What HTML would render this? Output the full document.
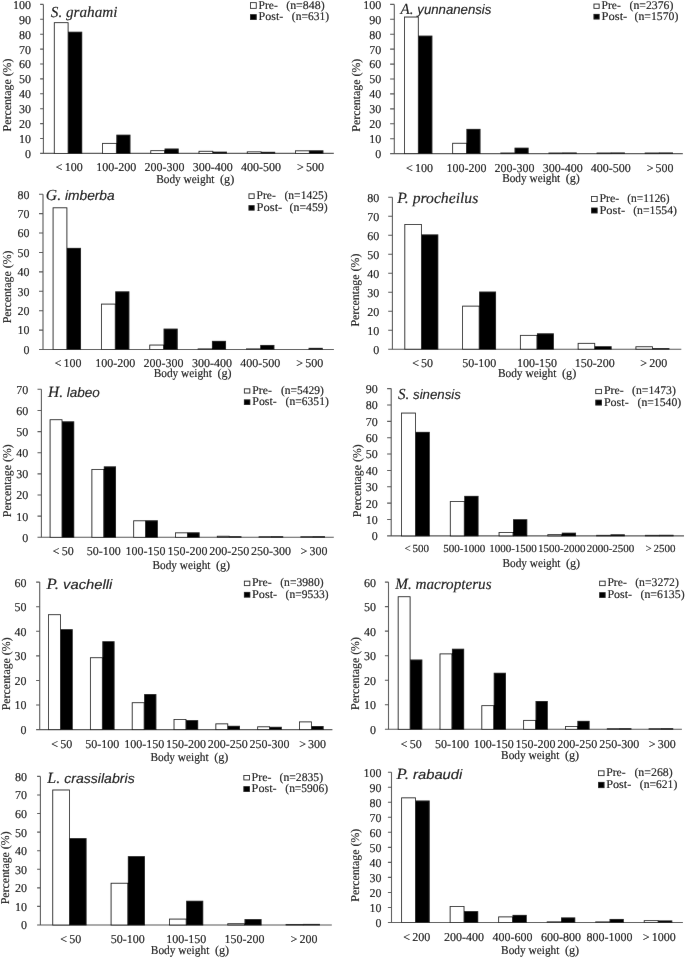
<!DOCTYPE html>
<html><head><meta charset="utf-8"><title>Body weight distributions</title>
<style>
html,body{margin:0;padding:0;background:#fff;}
body{width:685px;height:958px;overflow:hidden;}
svg{display:block;filter:grayscale(1);}
text{font-family:"Liberation Serif", serif;fill:#000;stroke:#000;stroke-width:0.12px;text-rendering:geometricPrecision;}
</style></head><body>
<svg width="685" height="958" viewBox="0 0 685 958">
<defs><filter id="bl" x="0" y="0" width="685" height="958" filterUnits="userSpaceOnUse"><feConvolveMatrix order="3" kernelMatrix="0.00087 0.02776 0.00087 0.02776 0.88549 0.02776 0.00087 0.02776 0.00087" edgeMode="duplicate" preserveAlpha="false"/></filter></defs>
<g filter="url(#bl)">
<rect width="685" height="958" fill="#fff"/>
<path d="M40.1 153.4H333.8" stroke="#545454" stroke-width="1.1" fill="none"/>
<rect x="54.29" y="22.68" width="13.81" height="130.72" fill="#fff" stroke="#111" stroke-width="0.85"/>
<rect x="68.1" y="31.72" width="14.11" height="122.08" fill="#000"/>
<rect x="102.53" y="143.37" width="13.81" height="10.03" fill="#fff" stroke="#111" stroke-width="0.85"/>
<rect x="116.34" y="134.68" width="14.11" height="19.12" fill="#000"/>
<rect x="150.77" y="150.67" width="13.81" height="2.73" fill="#fff" stroke="#111" stroke-width="0.85"/>
<rect x="164.58" y="148.53" width="14.11" height="5.27" fill="#000"/>
<rect x="199.01" y="151.27" width="13.81" height="2.13" fill="#fff" stroke="#111" stroke-width="0.85"/>
<rect x="212.82" y="151.66" width="14.11" height="2.14" fill="#000"/>
<rect x="247.25" y="151.86" width="13.81" height="1.54" fill="#fff" stroke="#111" stroke-width="0.85"/>
<rect x="261.06" y="151.81" width="14.11" height="1.99" fill="#000"/>
<rect x="295.49" y="150.82" width="13.81" height="2.58" fill="#fff" stroke="#111" stroke-width="0.85"/>
<rect x="309.3" y="150.32" width="14.11" height="3.48" fill="#000"/>
<path d="M43.4 4.4V153.4" stroke="#545454" stroke-width="1.1" fill="none"/>
<path d="M40.1 138.5H43.4M40.1 123.6H43.4M40.1 108.7H43.4M40.1 93.8H43.4M40.1 78.9H43.4M40.1 64H43.4M40.1 49.1H43.4M40.1 34.2H43.4M40.1 19.3H43.4M40.1 4.4H43.4" stroke="#545454" stroke-width="1.1" fill="none"/>
<text transform="translate(31 157.8) scale(1.0 1)" text-anchor="end" font-size="12">0</text>
<text transform="translate(31 142.9) scale(1.0 1)" text-anchor="end" font-size="12">10</text>
<text transform="translate(31 128) scale(1.0 1)" text-anchor="end" font-size="12">20</text>
<text transform="translate(31 113.1) scale(1.0 1)" text-anchor="end" font-size="12">30</text>
<text transform="translate(31 98.2) scale(1.0 1)" text-anchor="end" font-size="12">40</text>
<text transform="translate(31 83.3) scale(1.0 1)" text-anchor="end" font-size="12">50</text>
<text transform="translate(31 68.4) scale(1.0 1)" text-anchor="end" font-size="12">60</text>
<text transform="translate(31 53.5) scale(1.0 1)" text-anchor="end" font-size="12">70</text>
<text transform="translate(31 38.6) scale(1.0 1)" text-anchor="end" font-size="12">80</text>
<text transform="translate(31 23.7) scale(1.0 1)" text-anchor="end" font-size="12">90</text>
<text transform="translate(31 8.8) scale(1.0 1)" text-anchor="end" font-size="12">100</text>
<text transform="translate(69.3 170.8) scale(1 1)" text-anchor="middle" font-size="12">&lt;<tspan dx="-0.9"> 100</tspan></text>
<text transform="translate(116.34 170.8) scale(1 1)" text-anchor="middle" font-size="12">100-200</text>
<text transform="translate(164.58 170.8) scale(1 1)" text-anchor="middle" font-size="12">200-300</text>
<text transform="translate(212.82 170.8) scale(1 1)" text-anchor="middle" font-size="12">300-400</text>
<text transform="translate(261.06 170.8) scale(1 1)" text-anchor="middle" font-size="12">400-500</text>
<text transform="translate(310.5 170.8) scale(1 1)" text-anchor="middle" font-size="12">&gt;<tspan dx="-0.9"> 500</tspan></text>
<text x="156.2" y="182.5" font-size="12.2" textLength="58.29" lengthAdjust="spacingAndGlyphs">Body weight</text>
<text transform="translate(234.2 182.5) scale(1.0 1)" font-size="12.2" text-anchor="end">(g)</text>
<text transform="translate(11.2 95) rotate(-90)" text-anchor="middle" font-size="11.9">Percentage (%)</text>
<text x="50.8" y="16.9" font-size="15.5" font-style="italic" textLength="66.6" lengthAdjust="spacingAndGlyphs">S. <tspan font-family="'Liberation Serif', serif" font-size="15.5">grahami</tspan></text>
<rect x="250.45" y="2.65" width="5.8" height="5.7" fill="#fff" stroke="#111" stroke-width="0.85"/>
<rect x="250" y="14.2" width="6.7" height="5.7" fill="#000"/>
<text x="258.6" y="8.9" font-size="11.8" textLength="19.2" lengthAdjust="spacingAndGlyphs">Pre-</text>
<text x="258.6" y="20.2" font-size="11.8" textLength="24.7" lengthAdjust="spacingAndGlyphs">Post-</text>
<text x="286.2" y="8.9" font-size="11.8" textLength="38.5" lengthAdjust="spacingAndGlyphs">(n=848)</text>
<text x="291.8" y="20.2" font-size="11.8" textLength="37.2" lengthAdjust="spacingAndGlyphs">(n=631)</text>
<path d="M390.1 153.6H682.8" stroke="#545454" stroke-width="1.1" fill="none"/>
<rect x="404.53" y="17.03" width="13.77" height="136.57" fill="#fff" stroke="#111" stroke-width="0.85"/>
<rect x="418.3" y="35.63" width="14.07" height="118.37" fill="#000"/>
<rect x="452.65" y="143.26" width="13.77" height="10.34" fill="#fff" stroke="#111" stroke-width="0.85"/>
<rect x="466.42" y="128.88" width="14.07" height="25.12" fill="#000"/>
<rect x="500.77" y="153" width="13.77" height="0.6" fill="#fff" stroke="#111" stroke-width="0.85"/>
<rect x="514.54" y="147.68" width="14.07" height="6.32" fill="#000"/>
<rect x="548.89" y="153" width="13.77" height="0.6" fill="#fff" stroke="#111" stroke-width="0.85"/>
<rect x="562.66" y="152.5" width="14.07" height="1.5" fill="#000"/>
<rect x="597.01" y="153" width="13.77" height="0.6" fill="#fff" stroke="#111" stroke-width="0.85"/>
<rect x="610.78" y="152.5" width="14.07" height="1.5" fill="#000"/>
<rect x="645.13" y="153" width="13.77" height="0.6" fill="#fff" stroke="#111" stroke-width="0.85"/>
<rect x="658.9" y="152.5" width="14.07" height="1.5" fill="#000"/>
<path d="M394.3 4.4V153.6" stroke="#545454" stroke-width="1.1" fill="none"/>
<path d="M390.1 138.68H394.3M390.1 123.76H394.3M390.1 108.84H394.3M390.1 93.92H394.3M390.1 79H394.3M390.1 64.08H394.3M390.1 49.16H394.3M390.1 34.24H394.3M390.1 19.32H394.3M390.1 4.4H394.3" stroke="#545454" stroke-width="1.1" fill="none"/>
<text transform="translate(381.2 158) scale(1.0 1)" text-anchor="end" font-size="12">0</text>
<text transform="translate(381.2 143.08) scale(1.0 1)" text-anchor="end" font-size="12">10</text>
<text transform="translate(381.2 128.16) scale(1.0 1)" text-anchor="end" font-size="12">20</text>
<text transform="translate(381.2 113.24) scale(1.0 1)" text-anchor="end" font-size="12">30</text>
<text transform="translate(381.2 98.32) scale(1.0 1)" text-anchor="end" font-size="12">40</text>
<text transform="translate(381.2 83.4) scale(1.0 1)" text-anchor="end" font-size="12">50</text>
<text transform="translate(381.2 68.48) scale(1.0 1)" text-anchor="end" font-size="12">60</text>
<text transform="translate(381.2 53.56) scale(1.0 1)" text-anchor="end" font-size="12">70</text>
<text transform="translate(381.2 38.64) scale(1.0 1)" text-anchor="end" font-size="12">80</text>
<text transform="translate(381.2 23.72) scale(1.0 1)" text-anchor="end" font-size="12">90</text>
<text transform="translate(381.2 8.8) scale(1.0 1)" text-anchor="end" font-size="12">100</text>
<text transform="translate(419.5 171.5) scale(1 1)" text-anchor="middle" font-size="12">&lt;<tspan dx="-0.9"> 100</tspan></text>
<text transform="translate(466.42 171.5) scale(1 1)" text-anchor="middle" font-size="12">100-200</text>
<text transform="translate(514.54 171.5) scale(1 1)" text-anchor="middle" font-size="12">200-300</text>
<text transform="translate(562.66 171.5) scale(1 1)" text-anchor="middle" font-size="12">300-400</text>
<text transform="translate(610.78 171.5) scale(1 1)" text-anchor="middle" font-size="12">400-500</text>
<text transform="translate(660.1 171.5) scale(1 1)" text-anchor="middle" font-size="12">&gt;<tspan dx="-0.9"> 500</tspan></text>
<text x="502.2" y="181.6" font-size="12.2" textLength="58.06" lengthAdjust="spacingAndGlyphs">Body weight</text>
<text transform="translate(579.9 181.6) scale(1.0 1)" font-size="12.2" text-anchor="end">(g)</text>
<text transform="translate(360.4 95.2) rotate(-90)" text-anchor="middle" font-size="11.9">Percentage (%)</text>
<text x="400.6" y="13.7" font-size="15.5" font-style="italic" textLength="90.8" lengthAdjust="spacingAndGlyphs">A. <tspan font-family="'Liberation Sans', sans-serif" font-size="13.6">yunnanensis</tspan></text>
<rect x="593.95" y="4.05" width="5.2" height="4.3" fill="#fff" stroke="#111" stroke-width="0.85"/>
<rect x="593.5" y="13.9" width="6.1" height="5.6" fill="#000"/>
<text x="601.6" y="8.8" font-size="11.8" textLength="19.2" lengthAdjust="spacingAndGlyphs">Pre-</text>
<text x="601.6" y="20" font-size="11.8" textLength="25.7" lengthAdjust="spacingAndGlyphs">Post-</text>
<text x="629.5" y="8.8" font-size="11.8" textLength="43.8" lengthAdjust="spacingAndGlyphs">(n=2376)</text>
<text x="634.6" y="20" font-size="11.8" textLength="43.8" lengthAdjust="spacingAndGlyphs">(n=1570)</text>
<path d="M39 349.5H333.9" stroke="#545454" stroke-width="1.1" fill="none"/>
<rect x="53.07" y="207.8" width="13.83" height="141.7" fill="#fff" stroke="#111" stroke-width="0.85"/>
<rect x="66.9" y="247.87" width="14.13" height="102.03" fill="#000"/>
<rect x="101.41" y="304.09" width="13.83" height="45.41" fill="#fff" stroke="#111" stroke-width="0.85"/>
<rect x="115.24" y="291.36" width="14.13" height="58.54" fill="#000"/>
<rect x="149.75" y="345.05" width="13.83" height="4.45" fill="#fff" stroke="#111" stroke-width="0.85"/>
<rect x="163.58" y="328.63" width="14.13" height="21.27" fill="#000"/>
<rect x="198.09" y="348.9" width="13.83" height="0.6" fill="#fff" stroke="#111" stroke-width="0.85"/>
<rect x="211.92" y="340.86" width="14.13" height="9.04" fill="#000"/>
<rect x="246.43" y="348.9" width="13.83" height="0.6" fill="#fff" stroke="#111" stroke-width="0.85"/>
<rect x="260.26" y="344.94" width="14.13" height="4.96" fill="#000"/>
<rect x="308.6" y="347.85" width="14.13" height="2.05" fill="#000"/>
<path d="M43 194.2V349.5" stroke="#545454" stroke-width="1.1" fill="none"/>
<path d="M39 330.09H43M39 310.68H43M39 291.26H43M39 271.85H43M39 252.44H43M39 233.02H43M39 213.61H43M39 194.2H43" stroke="#545454" stroke-width="1.1" fill="none"/>
<text transform="translate(29.5 353.9) scale(1.0 1)" text-anchor="end" font-size="12">0</text>
<text transform="translate(29.5 334.49) scale(1.0 1)" text-anchor="end" font-size="12">10</text>
<text transform="translate(29.5 315.07) scale(1.0 1)" text-anchor="end" font-size="12">20</text>
<text transform="translate(29.5 295.66) scale(1.0 1)" text-anchor="end" font-size="12">30</text>
<text transform="translate(29.5 276.25) scale(1.0 1)" text-anchor="end" font-size="12">40</text>
<text transform="translate(29.5 256.84) scale(1.0 1)" text-anchor="end" font-size="12">50</text>
<text transform="translate(29.5 237.42) scale(1.0 1)" text-anchor="end" font-size="12">60</text>
<text transform="translate(29.5 218.01) scale(1.0 1)" text-anchor="end" font-size="12">70</text>
<text transform="translate(29.5 198.6) scale(1.0 1)" text-anchor="end" font-size="12">80</text>
<text transform="translate(68.1 366.9) scale(1 1)" text-anchor="middle" font-size="12">&lt;<tspan dx="-0.9"> 100</tspan></text>
<text transform="translate(115.24 366.9) scale(1 1)" text-anchor="middle" font-size="12">100-200</text>
<text transform="translate(163.58 366.9) scale(1 1)" text-anchor="middle" font-size="12">200-300</text>
<text transform="translate(211.92 366.9) scale(1 1)" text-anchor="middle" font-size="12">300-400</text>
<text transform="translate(260.26 366.9) scale(1 1)" text-anchor="middle" font-size="12">400-500</text>
<text transform="translate(309.8 366.9) scale(1 1)" text-anchor="middle" font-size="12">&gt;<tspan dx="-0.9"> 500</tspan></text>
<text x="153.7" y="376.8" font-size="12.2" textLength="58.21" lengthAdjust="spacingAndGlyphs">Body weight</text>
<text transform="translate(231.6 376.8) scale(1.0 1)" font-size="12.2" text-anchor="end">(g)</text>
<text transform="translate(11 286.9) rotate(-90)" text-anchor="middle" font-size="11.9">Percentage (%)</text>
<text x="45.8" y="200.4" font-size="15.5" font-style="italic" textLength="68.9" lengthAdjust="spacingAndGlyphs">G. <tspan font-family="'Liberation Sans', sans-serif" font-size="13.6">imberba</tspan></text>
<rect x="248.95" y="193.85" width="5.2" height="4.7" fill="#fff" stroke="#111" stroke-width="0.85"/>
<rect x="248.5" y="205.2" width="6.1" height="5.4" fill="#000"/>
<text x="256.6" y="199.3" font-size="11.8" textLength="19.2" lengthAdjust="spacingAndGlyphs">Pre-</text>
<text x="256.6" y="211.4" font-size="11.8" textLength="25.7" lengthAdjust="spacingAndGlyphs">Post-</text>
<text x="284.5" y="199.3" font-size="11.8" textLength="43.1" lengthAdjust="spacingAndGlyphs">(n=1425)</text>
<text x="289.6" y="211.4" font-size="11.8" textLength="38" lengthAdjust="spacingAndGlyphs">(n=459)</text>
<path d="M388.2 349.2H681.3" stroke="#545454" stroke-width="1.1" fill="none"/>
<rect x="404.81" y="224.47" width="16.59" height="124.73" fill="#fff" stroke="#111" stroke-width="0.85"/>
<rect x="421.4" y="234.42" width="16.89" height="115.18" fill="#000"/>
<rect x="462.58" y="306.12" width="16.59" height="43.08" fill="#fff" stroke="#111" stroke-width="0.85"/>
<rect x="479.17" y="291.57" width="16.89" height="58.03" fill="#000"/>
<rect x="520.36" y="335.36" width="16.59" height="13.84" fill="#fff" stroke="#111" stroke-width="0.85"/>
<rect x="536.95" y="333.34" width="16.89" height="16.26" fill="#000"/>
<rect x="578.13" y="343.33" width="16.59" height="5.87" fill="#fff" stroke="#111" stroke-width="0.85"/>
<rect x="594.73" y="346.25" width="16.89" height="3.35" fill="#000"/>
<rect x="635.91" y="346.75" width="16.59" height="2.45" fill="#fff" stroke="#111" stroke-width="0.85"/>
<rect x="652.5" y="348.1" width="16.89" height="1.5" fill="#000"/>
<path d="M392.4 197.3V349.2" stroke="#545454" stroke-width="1.1" fill="none"/>
<path d="M388.2 330.21H392.4M388.2 311.23H392.4M388.2 292.24H392.4M388.2 273.25H392.4M388.2 254.26H392.4M388.2 235.28H392.4M388.2 216.29H392.4M388.2 197.3H392.4" stroke="#545454" stroke-width="1.1" fill="none"/>
<text transform="translate(379.2 353.6) scale(1.0 1)" text-anchor="end" font-size="12">0</text>
<text transform="translate(379.2 334.61) scale(1.0 1)" text-anchor="end" font-size="12">10</text>
<text transform="translate(379.2 315.62) scale(1.0 1)" text-anchor="end" font-size="12">20</text>
<text transform="translate(379.2 296.64) scale(1.0 1)" text-anchor="end" font-size="12">30</text>
<text transform="translate(379.2 277.65) scale(1.0 1)" text-anchor="end" font-size="12">40</text>
<text transform="translate(379.2 258.66) scale(1.0 1)" text-anchor="end" font-size="12">50</text>
<text transform="translate(379.2 239.68) scale(1.0 1)" text-anchor="end" font-size="12">60</text>
<text transform="translate(379.2 220.69) scale(1.0 1)" text-anchor="end" font-size="12">70</text>
<text transform="translate(379.2 201.7) scale(1.0 1)" text-anchor="end" font-size="12">80</text>
<text transform="translate(422.6 366.5) scale(1 1)" text-anchor="middle" font-size="12">&lt;<tspan dx="-0.9"> 50</tspan></text>
<text transform="translate(479.17 366.5) scale(1 1)" text-anchor="middle" font-size="12">50-100</text>
<text transform="translate(536.95 366.5) scale(1 1)" text-anchor="middle" font-size="12">100-150</text>
<text transform="translate(594.73 366.5) scale(1 1)" text-anchor="middle" font-size="12">150-200</text>
<text transform="translate(653.7 366.5) scale(1 1)" text-anchor="middle" font-size="12">&gt;<tspan dx="-0.9"> 200</tspan></text>
<text x="497.9" y="377.4" font-size="12.2" textLength="58.51" lengthAdjust="spacingAndGlyphs">Body weight</text>
<text transform="translate(576.2 377.4) scale(1.0 1)" font-size="12.2" text-anchor="end">(g)</text>
<text transform="translate(358.6 290.1) rotate(-90)" text-anchor="middle" font-size="11.9">Percentage (%)</text>
<text x="397.3" y="203.3" font-size="15.5" font-style="italic" textLength="81" lengthAdjust="spacingAndGlyphs">P. <tspan font-family="'Liberation Serif', serif" font-size="15.5">procheilus</tspan></text>
<rect x="591.55" y="196.45" width="5.6" height="5" fill="#fff" stroke="#111" stroke-width="0.85"/>
<rect x="591.1" y="207.6" width="6.5" height="5.8" fill="#000"/>
<text x="599.4" y="202.2" font-size="11.8" textLength="19.9" lengthAdjust="spacingAndGlyphs">Pre-</text>
<text x="599.4" y="213.7" font-size="11.8" textLength="25.7" lengthAdjust="spacingAndGlyphs">Post-</text>
<text x="627.3" y="202.2" font-size="11.8" textLength="42.4" lengthAdjust="spacingAndGlyphs">(n=1126)</text>
<text x="633.2" y="213.7" font-size="11.8" textLength="43.8" lengthAdjust="spacingAndGlyphs">(n=1554)</text>
<path d="M37.5 537.3H333.8" stroke="#545454" stroke-width="1.1" fill="none"/>
<rect x="50.08" y="419.72" width="11.92" height="117.58" fill="#fff" stroke="#111" stroke-width="0.85"/>
<rect x="62" y="421.34" width="12.22" height="116.36" fill="#000"/>
<rect x="91.88" y="469.41" width="11.92" height="67.89" fill="#fff" stroke="#111" stroke-width="0.85"/>
<rect x="103.8" y="466.37" width="12.22" height="71.33" fill="#000"/>
<rect x="133.68" y="520.79" width="11.92" height="16.51" fill="#fff" stroke="#111" stroke-width="0.85"/>
<rect x="145.6" y="520.29" width="12.22" height="17.41" fill="#000"/>
<rect x="175.48" y="532.84" width="11.92" height="4.46" fill="#fff" stroke="#111" stroke-width="0.85"/>
<rect x="187.4" y="532.34" width="12.22" height="5.36" fill="#000"/>
<rect x="217.28" y="536.22" width="11.92" height="1.08" fill="#fff" stroke="#111" stroke-width="0.85"/>
<rect x="229.2" y="536.2" width="12.22" height="1.5" fill="#000"/>
<rect x="259.08" y="536.7" width="11.92" height="0.6" fill="#fff" stroke="#111" stroke-width="0.85"/>
<rect x="271" y="536.2" width="12.22" height="1.5" fill="#000"/>
<rect x="300.88" y="536.7" width="11.92" height="0.6" fill="#fff" stroke="#111" stroke-width="0.85"/>
<rect x="312.8" y="536.2" width="12.22" height="1.5" fill="#000"/>
<path d="M41.4 389.3V537.3" stroke="#545454" stroke-width="1.1" fill="none"/>
<path d="M37.5 516.16H41.4M37.5 495.01H41.4M37.5 473.87H41.4M37.5 452.73H41.4M37.5 431.59H41.4M37.5 410.44H41.4M37.5 389.3H41.4" stroke="#545454" stroke-width="1.1" fill="none"/>
<text transform="translate(28.3 541.7) scale(1.0 1)" text-anchor="end" font-size="12">0</text>
<text transform="translate(28.3 520.56) scale(1.0 1)" text-anchor="end" font-size="12">10</text>
<text transform="translate(28.3 499.41) scale(1.0 1)" text-anchor="end" font-size="12">20</text>
<text transform="translate(28.3 478.27) scale(1.0 1)" text-anchor="end" font-size="12">30</text>
<text transform="translate(28.3 457.13) scale(1.0 1)" text-anchor="end" font-size="12">40</text>
<text transform="translate(28.3 435.99) scale(1.0 1)" text-anchor="end" font-size="12">50</text>
<text transform="translate(28.3 414.84) scale(1.0 1)" text-anchor="end" font-size="12">60</text>
<text transform="translate(28.3 393.7) scale(1.0 1)" text-anchor="end" font-size="12">70</text>
<text transform="translate(63.2 555.3) scale(1 1)" text-anchor="middle" font-size="12">&lt;<tspan dx="-0.9"> 50</tspan></text>
<text transform="translate(103.8 555.3) scale(1 1)" text-anchor="middle" font-size="12">50-100</text>
<text transform="translate(145.6 555.3) scale(1 1)" text-anchor="middle" font-size="12">100-150</text>
<text transform="translate(187.4 555.3) scale(1 1)" text-anchor="middle" font-size="12">150-200</text>
<text transform="translate(229.2 555.3) scale(1 1)" text-anchor="middle" font-size="12">200-250</text>
<text transform="translate(271 555.3) scale(1 1)" text-anchor="middle" font-size="12">250-300</text>
<text transform="translate(314 555.3) scale(1 1)" text-anchor="middle" font-size="12">&gt;<tspan dx="-0.9"> 300</tspan></text>
<text x="152.5" y="568.8" font-size="12.2" textLength="57.98" lengthAdjust="spacingAndGlyphs">Body weight</text>
<text transform="translate(230.1 568.8) scale(1.0 1)" font-size="12.2" text-anchor="end">(g)</text>
<text transform="translate(11 480.7) rotate(-90)" text-anchor="middle" font-size="11.9">Percentage (%)</text>
<text x="48" y="396.7" font-size="15.5" font-style="italic" textLength="51.9" lengthAdjust="spacingAndGlyphs">H. <tspan font-family="'Liberation Sans', sans-serif" font-size="13.6">labeo</tspan></text>
<rect x="244.35" y="388.85" width="5.5" height="4.2" fill="#fff" stroke="#111" stroke-width="0.85"/>
<rect x="243.9" y="399.4" width="6.4" height="5.6" fill="#000"/>
<text x="252.3" y="394.1" font-size="11.8" textLength="19.5" lengthAdjust="spacingAndGlyphs">Pre-</text>
<text x="252.3" y="405.3" font-size="11.8" textLength="24.4" lengthAdjust="spacingAndGlyphs">Post-</text>
<text x="281" y="394.1" font-size="11.8" textLength="42.9" lengthAdjust="spacingAndGlyphs">(n=5429)</text>
<text x="285.6" y="405.3" font-size="11.8" textLength="43.2" lengthAdjust="spacingAndGlyphs">(n=6351)</text>
<path d="M387.1 535.9H684" stroke="#545454" stroke-width="1.1" fill="none"/>
<rect x="401.54" y="413.06" width="13.96" height="122.84" fill="#fff" stroke="#111" stroke-width="0.85"/>
<rect x="415.5" y="431.87" width="14.26" height="104.43" fill="#000"/>
<rect x="450.3" y="501.44" width="13.96" height="34.46" fill="#fff" stroke="#111" stroke-width="0.85"/>
<rect x="464.26" y="495.87" width="14.26" height="40.43" fill="#000"/>
<rect x="499.06" y="532.54" width="13.96" height="3.36" fill="#fff" stroke="#111" stroke-width="0.85"/>
<rect x="513.02" y="519.27" width="14.26" height="17.03" fill="#000"/>
<rect x="547.82" y="534.66" width="13.96" height="1.24" fill="#fff" stroke="#111" stroke-width="0.85"/>
<rect x="561.78" y="532.69" width="14.26" height="3.61" fill="#000"/>
<rect x="596.58" y="535.3" width="13.96" height="0.6" fill="#fff" stroke="#111" stroke-width="0.85"/>
<rect x="610.54" y="534.33" width="14.26" height="1.97" fill="#000"/>
<rect x="645.34" y="535.3" width="13.96" height="0.6" fill="#fff" stroke="#111" stroke-width="0.85"/>
<rect x="659.3" y="534.8" width="14.26" height="1.5" fill="#000"/>
<path d="M391.2 388.6V535.9" stroke="#545454" stroke-width="1.1" fill="none"/>
<path d="M387.1 519.53H391.2M387.1 503.17H391.2M387.1 486.8H391.2M387.1 470.43H391.2M387.1 454.07H391.2M387.1 437.7H391.2M387.1 421.33H391.2M387.1 404.97H391.2M387.1 388.6H391.2" stroke="#545454" stroke-width="1.1" fill="none"/>
<text transform="translate(377.7 540.3) scale(1.0 1)" text-anchor="end" font-size="12">0</text>
<text transform="translate(377.7 523.93) scale(1.0 1)" text-anchor="end" font-size="12">10</text>
<text transform="translate(377.7 507.57) scale(1.0 1)" text-anchor="end" font-size="12">20</text>
<text transform="translate(377.7 491.2) scale(1.0 1)" text-anchor="end" font-size="12">30</text>
<text transform="translate(377.7 474.83) scale(1.0 1)" text-anchor="end" font-size="12">40</text>
<text transform="translate(377.7 458.47) scale(1.0 1)" text-anchor="end" font-size="12">50</text>
<text transform="translate(377.7 442.1) scale(1.0 1)" text-anchor="end" font-size="12">60</text>
<text transform="translate(377.7 425.73) scale(1.0 1)" text-anchor="end" font-size="12">70</text>
<text transform="translate(377.7 409.37) scale(1.0 1)" text-anchor="end" font-size="12">80</text>
<text transform="translate(377.7 393) scale(1.0 1)" text-anchor="end" font-size="12">90</text>
<text transform="translate(416.7 552.3) scale(1 1)" text-anchor="middle" font-size="11">&lt;<tspan dx="-0.9"> 500</tspan></text>
<text transform="translate(464.26 552.3) scale(1 1)" text-anchor="middle" font-size="11">500-1000</text>
<text transform="translate(513.02 552.3) scale(1 1)" text-anchor="middle" font-size="11">1000-1500</text>
<text transform="translate(561.78 552.3) scale(1 1)" text-anchor="middle" font-size="11">1500-2000</text>
<text transform="translate(610.54 552.3) scale(1 1)" text-anchor="middle" font-size="11">2000-2500</text>
<text transform="translate(660.5 552.3) scale(1 1)" text-anchor="middle" font-size="11">&gt;<tspan dx="-0.9"> 2500</tspan></text>
<text x="502.5" y="566.5" font-size="12.2" textLength="57.98" lengthAdjust="spacingAndGlyphs">Body weight</text>
<text transform="translate(580.1 566.5) scale(1.0 1)" font-size="12.2" text-anchor="end">(g)</text>
<text transform="translate(360.9 480.7) rotate(-90)" text-anchor="middle" font-size="11.9">Percentage (%)</text>
<text x="398" y="399.4" font-size="15.5" font-style="italic" textLength="62.8" lengthAdjust="spacingAndGlyphs">S. <tspan font-family="'Liberation Sans', sans-serif" font-size="13.6">sinensis</tspan></text>
<rect x="595.75" y="389.35" width="5.7" height="4.3" fill="#fff" stroke="#111" stroke-width="0.85"/>
<rect x="595.3" y="399.7" width="6.6" height="5.8" fill="#000"/>
<text x="603.9" y="394.4" font-size="11.8" textLength="19.8" lengthAdjust="spacingAndGlyphs">Pre-</text>
<text x="603.9" y="405.8" font-size="11.8" textLength="24.8" lengthAdjust="spacingAndGlyphs">Post-</text>
<text x="632.1" y="394.4" font-size="11.8" textLength="43.7" lengthAdjust="spacingAndGlyphs">(n=1473)</text>
<text x="637.5" y="405.8" font-size="11.8" textLength="43.7" lengthAdjust="spacingAndGlyphs">(n=1540)</text>
<path d="M36.1 729.6H332.4" stroke="#545454" stroke-width="1.1" fill="none"/>
<rect x="48.57" y="614.7" width="11.93" height="114.9" fill="#fff" stroke="#111" stroke-width="0.85"/>
<rect x="60.5" y="629.2" width="12.23" height="100.8" fill="#000"/>
<rect x="90.39" y="657.73" width="11.93" height="71.88" fill="#fff" stroke="#111" stroke-width="0.85"/>
<rect x="102.32" y="641.25" width="12.23" height="88.75" fill="#000"/>
<rect x="132.21" y="702.71" width="11.93" height="26.89" fill="#fff" stroke="#111" stroke-width="0.85"/>
<rect x="144.13" y="694.1" width="12.23" height="35.9" fill="#000"/>
<rect x="174.02" y="719.43" width="11.93" height="10.17" fill="#fff" stroke="#111" stroke-width="0.85"/>
<rect x="185.95" y="720.16" width="12.23" height="9.84" fill="#000"/>
<rect x="215.84" y="723.85" width="11.93" height="5.75" fill="#fff" stroke="#111" stroke-width="0.85"/>
<rect x="227.77" y="725.81" width="12.23" height="4.19" fill="#000"/>
<rect x="257.66" y="726.8" width="11.93" height="2.8" fill="#fff" stroke="#111" stroke-width="0.85"/>
<rect x="269.58" y="726.8" width="12.23" height="3.2" fill="#000"/>
<rect x="299.47" y="721.89" width="11.93" height="7.71" fill="#fff" stroke="#111" stroke-width="0.85"/>
<rect x="311.4" y="726.06" width="12.23" height="3.94" fill="#000"/>
<path d="M39.7 582.1V729.6" stroke="#545454" stroke-width="1.1" fill="none"/>
<path d="M36.1 705.02H39.7M36.1 680.43H39.7M36.1 655.85H39.7M36.1 631.27H39.7M36.1 606.68H39.7M36.1 582.1H39.7" stroke="#545454" stroke-width="1.1" fill="none"/>
<text transform="translate(26.5 734) scale(1.0 1)" text-anchor="end" font-size="12">0</text>
<text transform="translate(26.5 709.42) scale(1.0 1)" text-anchor="end" font-size="12">10</text>
<text transform="translate(26.5 684.83) scale(1.0 1)" text-anchor="end" font-size="12">20</text>
<text transform="translate(26.5 660.25) scale(1.0 1)" text-anchor="end" font-size="12">30</text>
<text transform="translate(26.5 635.67) scale(1.0 1)" text-anchor="end" font-size="12">40</text>
<text transform="translate(26.5 611.08) scale(1.0 1)" text-anchor="end" font-size="12">50</text>
<text transform="translate(26.5 586.5) scale(1.0 1)" text-anchor="end" font-size="12">60</text>
<text transform="translate(61.7 747.8) scale(1 1)" text-anchor="middle" font-size="12">&lt;<tspan dx="-0.9"> 50</tspan></text>
<text transform="translate(102.32 747.8) scale(1 1)" text-anchor="middle" font-size="12">50-100</text>
<text transform="translate(144.13 747.8) scale(1 1)" text-anchor="middle" font-size="12">100-150</text>
<text transform="translate(185.95 747.8) scale(1 1)" text-anchor="middle" font-size="12">150-200</text>
<text transform="translate(227.77 747.8) scale(1 1)" text-anchor="middle" font-size="12">200-250</text>
<text transform="translate(269.58 747.8) scale(1 1)" text-anchor="middle" font-size="12">250-300</text>
<text transform="translate(312.6 747.8) scale(1 1)" text-anchor="middle" font-size="12">&gt;<tspan dx="-0.9"> 300</tspan></text>
<text x="150.4" y="760.5" font-size="12.2" textLength="58.29" lengthAdjust="spacingAndGlyphs">Body weight</text>
<text transform="translate(228.4 760.5) scale(1.0 1)" font-size="12.2" text-anchor="end">(g)</text>
<text transform="translate(9.7 673.8) rotate(-90)" text-anchor="middle" font-size="11.9">Percentage (%)</text>
<text x="46.6" y="589.3" font-size="15.5" font-style="italic" textLength="65.7" lengthAdjust="spacingAndGlyphs">P. <tspan font-family="'Liberation Sans', sans-serif" font-size="13.6">vachelli</tspan></text>
<rect x="244.35" y="581.15" width="5.5" height="4.5" fill="#fff" stroke="#111" stroke-width="0.85"/>
<rect x="243.9" y="591.9" width="6.4" height="5.7" fill="#000"/>
<text x="252" y="586.4" font-size="11.8" textLength="19.8" lengthAdjust="spacingAndGlyphs">Pre-</text>
<text x="252" y="597.9" font-size="11.8" textLength="25.2" lengthAdjust="spacingAndGlyphs">Post-</text>
<text x="280.2" y="586.4" font-size="11.8" textLength="43.4" lengthAdjust="spacingAndGlyphs">(n=3980)</text>
<text x="285.6" y="597.9" font-size="11.8" textLength="42.9" lengthAdjust="spacingAndGlyphs">(n=9533)</text>
<path d="M384.9 729.3H681.9" stroke="#545454" stroke-width="1.1" fill="none"/>
<rect x="398.17" y="596.73" width="11.93" height="132.57" fill="#fff" stroke="#111" stroke-width="0.85"/>
<rect x="410.1" y="659.53" width="12.23" height="70.17" fill="#000"/>
<rect x="439.99" y="653.89" width="11.93" height="75.41" fill="#fff" stroke="#111" stroke-width="0.85"/>
<rect x="451.92" y="648.73" width="12.23" height="80.97" fill="#000"/>
<rect x="481.81" y="705.66" width="11.93" height="23.64" fill="#fff" stroke="#111" stroke-width="0.85"/>
<rect x="493.73" y="672.77" width="12.23" height="56.93" fill="#000"/>
<rect x="523.62" y="720.38" width="11.93" height="8.92" fill="#fff" stroke="#111" stroke-width="0.85"/>
<rect x="535.55" y="700.99" width="12.23" height="28.71" fill="#000"/>
<rect x="565.44" y="726.51" width="11.93" height="2.79" fill="#fff" stroke="#111" stroke-width="0.85"/>
<rect x="577.37" y="720.86" width="12.23" height="8.84" fill="#000"/>
<rect x="607.26" y="728.7" width="11.93" height="0.6" fill="#fff" stroke="#111" stroke-width="0.85"/>
<rect x="619.18" y="728.2" width="12.23" height="1.5" fill="#000"/>
<rect x="649.07" y="728.7" width="11.93" height="0.6" fill="#fff" stroke="#111" stroke-width="0.85"/>
<rect x="661" y="728.2" width="12.23" height="1.5" fill="#000"/>
<path d="M388.5 582.1V729.3" stroke="#545454" stroke-width="1.1" fill="none"/>
<path d="M384.9 704.77H388.5M384.9 680.23H388.5M384.9 655.7H388.5M384.9 631.17H388.5M384.9 606.63H388.5M384.9 582.1H388.5" stroke="#545454" stroke-width="1.1" fill="none"/>
<text transform="translate(375.9 733.7) scale(1.0 1)" text-anchor="end" font-size="12">0</text>
<text transform="translate(375.9 709.17) scale(1.0 1)" text-anchor="end" font-size="12">10</text>
<text transform="translate(375.9 684.63) scale(1.0 1)" text-anchor="end" font-size="12">20</text>
<text transform="translate(375.9 660.1) scale(1.0 1)" text-anchor="end" font-size="12">30</text>
<text transform="translate(375.9 635.57) scale(1.0 1)" text-anchor="end" font-size="12">40</text>
<text transform="translate(375.9 611.03) scale(1.0 1)" text-anchor="end" font-size="12">50</text>
<text transform="translate(375.9 586.5) scale(1.0 1)" text-anchor="end" font-size="12">60</text>
<text transform="translate(411.3 747.5) scale(1 1)" text-anchor="middle" font-size="12">&lt;<tspan dx="-0.9"> 50</tspan></text>
<text transform="translate(451.92 747.5) scale(1 1)" text-anchor="middle" font-size="12">50-100</text>
<text transform="translate(493.73 747.5) scale(1 1)" text-anchor="middle" font-size="12">100-150</text>
<text transform="translate(535.55 747.5) scale(1 1)" text-anchor="middle" font-size="12">150-200</text>
<text transform="translate(577.37 747.5) scale(1 1)" text-anchor="middle" font-size="12">200-250</text>
<text transform="translate(619.18 747.5) scale(1 1)" text-anchor="middle" font-size="12">250-300</text>
<text transform="translate(662.2 747.5) scale(1 1)" text-anchor="middle" font-size="12">&gt;<tspan dx="-0.9"> 300</tspan></text>
<text x="501.1" y="759.1" font-size="12.2" textLength="58.29" lengthAdjust="spacingAndGlyphs">Body weight</text>
<text transform="translate(579.1 759.1) scale(1.0 1)" font-size="12.2" text-anchor="end">(g)</text>
<text transform="translate(359.3 673.5) rotate(-90)" text-anchor="middle" font-size="11.9">Percentage (%)</text>
<text x="395.3" y="588.9" font-size="15.5" font-style="italic" textLength="96.3" lengthAdjust="spacingAndGlyphs">M. <tspan font-family="'Liberation Serif', serif" font-size="15.5">macropterus</tspan></text>
<rect x="599.65" y="581.15" width="5.5" height="4.5" fill="#fff" stroke="#111" stroke-width="0.85"/>
<rect x="599.2" y="592.2" width="6.4" height="5.7" fill="#000"/>
<text x="607.4" y="586.4" font-size="11.8" textLength="19.4" lengthAdjust="spacingAndGlyphs">Pre-</text>
<text x="607.4" y="598.2" font-size="11.8" textLength="24.7" lengthAdjust="spacingAndGlyphs">Post-</text>
<text x="635.2" y="586.4" font-size="11.8" textLength="43.7" lengthAdjust="spacingAndGlyphs">(n=3272)</text>
<text x="640.5" y="598.2" font-size="11.8" textLength="44.1" lengthAdjust="spacingAndGlyphs">(n=6135)</text>
<path d="M37.1 925H331.8" stroke="#545454" stroke-width="1.1" fill="none"/>
<rect x="52.74" y="789.99" width="16.76" height="135.01" fill="#fff" stroke="#111" stroke-width="0.85"/>
<rect x="69.5" y="838.15" width="17.06" height="87.25" fill="#000"/>
<rect x="111.08" y="883.23" width="16.76" height="41.77" fill="#fff" stroke="#111" stroke-width="0.85"/>
<rect x="127.84" y="856.17" width="17.06" height="69.23" fill="#000"/>
<rect x="169.42" y="919.08" width="16.76" height="5.92" fill="#fff" stroke="#111" stroke-width="0.85"/>
<rect x="186.18" y="900.75" width="17.06" height="24.65" fill="#000"/>
<rect x="227.75" y="923.73" width="16.76" height="1.27" fill="#fff" stroke="#111" stroke-width="0.85"/>
<rect x="244.51" y="919.14" width="17.06" height="6.26" fill="#000"/>
<rect x="286.09" y="924.4" width="16.76" height="0.6" fill="#fff" stroke="#111" stroke-width="0.85"/>
<rect x="302.85" y="923.9" width="17.06" height="1.5" fill="#000"/>
<path d="M40.4 776.4V925" stroke="#545454" stroke-width="1.1" fill="none"/>
<path d="M37.1 906.42H40.4M37.1 887.85H40.4M37.1 869.27H40.4M37.1 850.7H40.4M37.1 832.12H40.4M37.1 813.55H40.4M37.1 794.97H40.4M37.1 776.4H40.4" stroke="#545454" stroke-width="1.1" fill="none"/>
<text transform="translate(27.1 929.4) scale(1.0 1)" text-anchor="end" font-size="12">0</text>
<text transform="translate(27.1 910.82) scale(1.0 1)" text-anchor="end" font-size="12">10</text>
<text transform="translate(27.1 892.25) scale(1.0 1)" text-anchor="end" font-size="12">20</text>
<text transform="translate(27.1 873.67) scale(1.0 1)" text-anchor="end" font-size="12">30</text>
<text transform="translate(27.1 855.1) scale(1.0 1)" text-anchor="end" font-size="12">40</text>
<text transform="translate(27.1 836.52) scale(1.0 1)" text-anchor="end" font-size="12">50</text>
<text transform="translate(27.1 817.95) scale(1.0 1)" text-anchor="end" font-size="12">60</text>
<text transform="translate(27.1 799.37) scale(1.0 1)" text-anchor="end" font-size="12">70</text>
<text transform="translate(27.1 780.8) scale(1.0 1)" text-anchor="end" font-size="12">80</text>
<text transform="translate(70.7 942.8) scale(1 1)" text-anchor="middle" font-size="12">&lt;<tspan dx="-0.9"> 50</tspan></text>
<text transform="translate(127.84 942.8) scale(1 1)" text-anchor="middle" font-size="12">50-100</text>
<text transform="translate(186.18 942.8) scale(1 1)" text-anchor="middle" font-size="12">100-150</text>
<text transform="translate(244.51 942.8) scale(1 1)" text-anchor="middle" font-size="12">150-200</text>
<text transform="translate(304.05 942.8) scale(1 1)" text-anchor="middle" font-size="12">&gt;<tspan dx="-0.9"> 200</tspan></text>
<text x="150.8" y="954.2" font-size="12.2" textLength="58.51" lengthAdjust="spacingAndGlyphs">Body weight</text>
<text transform="translate(229.1 954.2) scale(1.0 1)" font-size="12.2" text-anchor="end">(g)</text>
<text transform="translate(9 867.8) rotate(-90)" text-anchor="middle" font-size="11.9">Percentage (%)</text>
<text x="47.2" y="783.2" font-size="15.5" font-style="italic" textLength="87.5" lengthAdjust="spacingAndGlyphs">L. <tspan font-family="'Liberation Sans', sans-serif" font-size="13.6">crassilabris</tspan></text>
<rect x="243.85" y="775.45" width="5.6" height="4.5" fill="#fff" stroke="#111" stroke-width="0.85"/>
<rect x="243.4" y="786.2" width="6.5" height="5.7" fill="#000"/>
<text x="251.6" y="780.7" font-size="11.8" textLength="19.9" lengthAdjust="spacingAndGlyphs">Pre-</text>
<text x="251.6" y="792.2" font-size="11.8" textLength="25.1" lengthAdjust="spacingAndGlyphs">Post-</text>
<text x="279.5" y="780.7" font-size="11.8" textLength="43.6" lengthAdjust="spacingAndGlyphs">(n=2835)</text>
<text x="285.3" y="792.2" font-size="11.8" textLength="42.9" lengthAdjust="spacingAndGlyphs">(n=5906)</text>
<path d="M387.9 922.5H682.9" stroke="#545454" stroke-width="1.1" fill="none"/>
<rect x="401.61" y="797.85" width="13.89" height="124.65" fill="#fff" stroke="#111" stroke-width="0.85"/>
<rect x="415.5" y="800.51" width="14.19" height="122.39" fill="#000"/>
<rect x="450.13" y="906.52" width="13.89" height="15.98" fill="#fff" stroke="#111" stroke-width="0.85"/>
<rect x="464.02" y="911.13" width="14.19" height="11.77" fill="#000"/>
<rect x="498.65" y="916.89" width="13.89" height="5.61" fill="#fff" stroke="#111" stroke-width="0.85"/>
<rect x="512.54" y="914.88" width="14.19" height="8.01" fill="#000"/>
<rect x="547.17" y="921.85" width="13.89" height="0.65" fill="#fff" stroke="#111" stroke-width="0.85"/>
<rect x="561.06" y="917.44" width="14.19" height="5.46" fill="#000"/>
<rect x="595.69" y="921.9" width="13.89" height="0.6" fill="#fff" stroke="#111" stroke-width="0.85"/>
<rect x="609.58" y="918.94" width="14.19" height="3.96" fill="#000"/>
<rect x="644.21" y="920.65" width="13.89" height="1.85" fill="#fff" stroke="#111" stroke-width="0.85"/>
<rect x="658.1" y="920.45" width="14.19" height="2.45" fill="#000"/>
<path d="M391.5 772.2V922.5" stroke="#545454" stroke-width="1.1" fill="none"/>
<path d="M387.9 907.47H391.5M387.9 892.44H391.5M387.9 877.41H391.5M387.9 862.38H391.5M387.9 847.35H391.5M387.9 832.32H391.5M387.9 817.29H391.5M387.9 802.26H391.5M387.9 787.23H391.5M387.9 772.2H391.5" stroke="#545454" stroke-width="1.1" fill="none"/>
<text transform="translate(381.5 926.9) scale(1.0 1)" text-anchor="end" font-size="12">0</text>
<text transform="translate(381.5 911.87) scale(1.0 1)" text-anchor="end" font-size="12">10</text>
<text transform="translate(381.5 896.84) scale(1.0 1)" text-anchor="end" font-size="12">20</text>
<text transform="translate(381.5 881.81) scale(1.0 1)" text-anchor="end" font-size="12">30</text>
<text transform="translate(381.5 866.78) scale(1.0 1)" text-anchor="end" font-size="12">40</text>
<text transform="translate(381.5 851.75) scale(1.0 1)" text-anchor="end" font-size="12">50</text>
<text transform="translate(381.5 836.72) scale(1.0 1)" text-anchor="end" font-size="12">60</text>
<text transform="translate(381.5 821.69) scale(1.0 1)" text-anchor="end" font-size="12">70</text>
<text transform="translate(381.5 806.66) scale(1.0 1)" text-anchor="end" font-size="12">80</text>
<text transform="translate(381.5 791.63) scale(1.0 1)" text-anchor="end" font-size="12">90</text>
<text transform="translate(381.5 776.6) scale(1.0 1)" text-anchor="end" font-size="12">100</text>
<text transform="translate(416.7 940.7) scale(1 1)" text-anchor="middle" font-size="12">&lt;<tspan dx="-0.9"> 200</tspan></text>
<text transform="translate(464.02 940.7) scale(1 1)" text-anchor="middle" font-size="12">200-400</text>
<text transform="translate(512.54 940.7) scale(1 1)" text-anchor="middle" font-size="12">400-600</text>
<text transform="translate(561.06 940.7) scale(1 1)" text-anchor="middle" font-size="12">600-800</text>
<text transform="translate(609.58 940.7) scale(1 1)" text-anchor="middle" font-size="12">800-1000</text>
<text transform="translate(659.3 940.7) scale(1 1)" text-anchor="middle" font-size="12">&gt;<tspan dx="-0.9"> 1000</tspan></text>
<text x="501.1" y="954.1" font-size="12.2" textLength="58.29" lengthAdjust="spacingAndGlyphs">Body weight</text>
<text transform="translate(579.1 954.1) scale(1.0 1)" font-size="12.2" text-anchor="end">(g)</text>
<text transform="translate(358.6 865.2) rotate(-90)" text-anchor="middle" font-size="11.9">Percentage (%)</text>
<text x="396.6" y="778.5" font-size="15.5" font-style="italic" textLength="65.7" lengthAdjust="spacingAndGlyphs">P. <tspan font-family="'Liberation Sans', sans-serif" font-size="13.6">rabaudi</tspan></text>
<rect x="598.55" y="770.85" width="5.5" height="4.8" fill="#fff" stroke="#111" stroke-width="0.85"/>
<rect x="598.1" y="781.9" width="6.4" height="6.2" fill="#000"/>
<text x="606.2" y="776.4" font-size="11.8" textLength="19.5" lengthAdjust="spacingAndGlyphs">Pre-</text>
<text x="606.2" y="788.4" font-size="11.8" textLength="25.1" lengthAdjust="spacingAndGlyphs">Post-</text>
<text x="634.4" y="776.4" font-size="11.8" textLength="38.3" lengthAdjust="spacingAndGlyphs">(n=268)</text>
<text x="639.8" y="788.4" font-size="11.8" textLength="37.5" lengthAdjust="spacingAndGlyphs">(n=621)</text>
</g>
</svg>
</body></html>
